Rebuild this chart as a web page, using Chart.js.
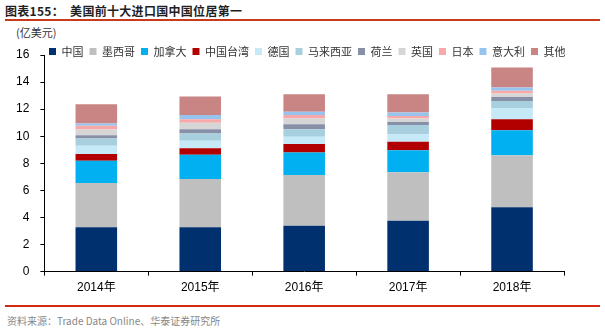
<!DOCTYPE html>
<html>
<head>
<meta charset="utf-8">
<script src="https://cdn.jsdelivr.net/npm/chart.js@4.4.1/dist/chart.umd.min.js"></script>
<style>
  body { margin: 0; width: 605px; height: 331px; background: #fff; position: relative; overflow: hidden;
         font-family: "Noto Sans CJK SC", "Liberation Sans", sans-serif; }
  #title { position: absolute; left: 5px; top: 4px; font-size: 12px; font-weight: bold; color: #1f1f1f;
           letter-spacing: 0.3px; white-space: pre; line-height: 14px; }
  #line1 { position: absolute; left: 5px; top: 19px; width: 595px; height: 2px; background: #c83a1c; }
  #unit { position: absolute; left: 16px; top: 25px; font-size: 11px; color: #333; line-height: 14px; }
  #chart { position: absolute; left: 0; top: 0; }
  #line2 { position: absolute; left: 5px; top: 305px; width: 595px; height: 2px; background: #d02a14; }
  #src { position: absolute; left: 7px; top: 314px; font-size: 10px; color: #888; line-height: 13px; }
</style>
</head>
<body>
<div id="title">图表155：  美国前十大进口国中国位居第一</div>
<div id="line1"></div>
<div id="unit">(亿美元)</div>
<canvas id="chart" width="605" height="305"></canvas>
<div id="line2"></div>
<div id="src">资料来源：Trade Data Online、华泰证券研究所</div>
<script>
const years = ['2014年', '2015年', '2016年', '2017年', '2018年'];

const china       = [3.27, 3.28, 3.39, 3.76, 4.75];
const mexico      = [3.27, 3.56, 3.74, 3.57, 3.85];
const canada      = [1.65, 1.79, 1.67, 1.64, 1.85];
const taiwan      = [0.49, 0.49, 0.62, 0.62, 0.81];
const germany     = [0.61, 0.54, 0.54, 0.56, 0.79];
const malaysia    = [0.55, 0.54, 0.56, 0.67, 0.56];
const netherlands = [0.24, 0.32, 0.37, 0.24, 0.29];
const uk          = [0.42, 0.48, 0.42, 0.25, 0.25];
const japan       = [0.27, 0.26, 0.25, 0.19, 0.20];
const italy       = [0.17, 0.30, 0.24, 0.25, 0.25];
const other       = [1.43, 1.37, 1.30, 1.35, 1.47];

const yTicks = [0, 2, 4, 6, 8, 10, 12, 14, 16];

// legend sits above the plot in the original and overlaps its top, so move it after layout
const shiftLegend = {
    id: 'shiftLegend',
    afterLayout(chart) {
        const lg = chart.legend;
        lg.left = 43;
        lg.right = 605;
        lg.top += 12;
        lg.bottom += 12;
    }
};

const ctx = document.getElementById('chart').getContext('2d');

new Chart(ctx, {
    type: 'bar',
    data: {
        labels: years,
        datasets: [
            { label: '中国', data: china, backgroundColor: '#00316e' },
            { label: '墨西哥', data: mexico, backgroundColor: '#bfbfbf' },
            { label: '加拿大', data: canada, backgroundColor: '#00b0f0' },
            { label: '中国台湾', data: taiwan, backgroundColor: '#b20000' },
            { label: '德国', data: germany, backgroundColor: '#c6e9f8' },
            { label: '马来西亚', data: malaysia, backgroundColor: '#a8cfdd' },
            { label: '荷兰', data: netherlands, backgroundColor: '#8890a8' },
            { label: '英国', data: uk, backgroundColor: '#d6d6d6' },
            { label: '日本', data: japan, backgroundColor: '#f7a8a8' },
            { label: '意大利', data: italy, backgroundColor: '#97c4ee' },
            { label: '其他', data: other, backgroundColor: '#c98484' }
        ]
    },
    options: {
        responsive: false,
        animation: false,
        layout: { padding: { left: 5, right: 41, top: 28, bottom: 5 } },
        datasets: {
            bar: { categoryPercentage: 1, barPercentage: 0.4, borderWidth: 0 }
        },
        scales: {
            x: {
                stacked: true,
                border: { display: true, color: '#000', width: 1 },
                grid: { display: true, drawOnChartArea: false, drawTicks: true, tickLength: 4, color: '#000' },
                ticks: { color: '#000', padding: 5, font: { family: 'Liberation Sans, Noto Sans CJK SC', size: 12 } }
            },
            y: {
                stacked: true,
                min: 0,
                max: 16,
                afterBuildTicks: axis => { axis.ticks = yTicks.map(v => ({ value: v })); },
                border: { display: true, color: '#000', width: 1 },
                grid: { display: true, drawOnChartArea: false, drawTicks: true, tickLength: 4, color: '#000' },
                ticks: { color: '#000', padding: 11, font: { family: 'Liberation Sans', size: 12 } }
            }
        },
        plugins: {
            tooltip: { enabled: false },
            legend: {
                display: true,
                position: 'top',
                align: 'start',
                labels: {
                    boxWidth: 7,
                    boxHeight: 7,
                    padding: 6,
                    color: '#333',
                    font: { family: 'Noto Sans CJK SC', size: 11 }
                }
            }
        }
    },
    plugins: [shiftLegend]
});
</script>
</body>
</html>
